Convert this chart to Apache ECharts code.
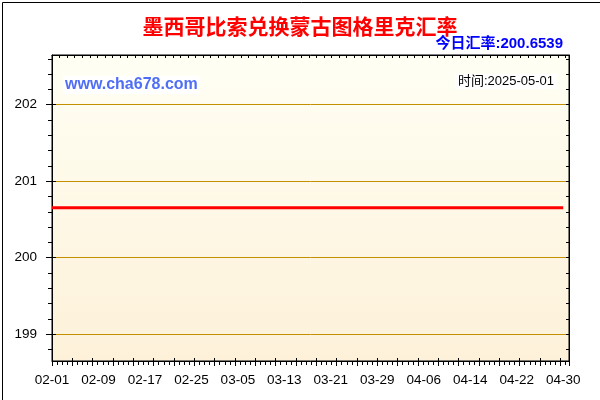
<!DOCTYPE html>
<html>
<head>
<meta charset="utf-8">
<script src="https://cdn.jsdelivr.net/npm/echarts@6/dist/echarts.min.js"></script>
<style>
html,body{margin:0;padding:0;background:#fff;}
#chart{width:600px;height:400px;}
</style>
</head>
<body>
<div id="chart"></div>
<script>
// ---- data ----
const titleText = '墨西哥比索兑换蒙古图格里克汇率';
const todayRateText = '今日汇率:200.6539';
const siteText = 'www.cha678.com';
const timeText = '时间:2025-05-01';

const dates = [
 '02-01','02-02','02-03','02-04','02-05','02-06','02-07','02-08','02-09','02-10',
 '02-11','02-12','02-13','02-14','02-15','02-16','02-17','02-18','02-19','02-20',
 '02-21','02-22','02-23','02-24','02-25','02-26','02-27','02-28',
 '03-01','03-02','03-03','03-04','03-05','03-06','03-07','03-08','03-09','03-10',
 '03-11','03-12','03-13','03-14','03-15','03-16','03-17','03-18','03-19','03-20',
 '03-21','03-22','03-23','03-24','03-25','03-26','03-27','03-28','03-29','03-30','03-31',
 '04-01','04-02','04-03','04-04','04-05','04-06','04-07','04-08','04-09','04-10',
 '04-11','04-12','04-13','04-14','04-15','04-16','04-17','04-18','04-19','04-20',
 '04-21','04-22','04-23','04-24','04-25','04-26','04-27','04-28','04-29','04-30',
 '05-01'
];

const rates = [
 200.6539,200.6539,200.6539,200.6539,200.6539,200.6539,200.6539,200.6539,200.6539,200.6539,
 200.6539,200.6539,200.6539,200.6539,200.6539,200.6539,200.6539,200.6539,200.6539,200.6539,
 200.6539,200.6539,200.6539,200.6539,200.6539,200.6539,200.6539,200.6539,
 200.6539,200.6539,200.6539,200.6539,200.6539,200.6539,200.6539,200.6539,200.6539,200.6539,
 200.6539,200.6539,200.6539,200.6539,200.6539,200.6539,200.6539,200.6539,200.6539,200.6539,
 200.6539,200.6539,200.6539,200.6539,200.6539,200.6539,200.6539,200.6539,200.6539,200.6539,200.6539,
 200.6539,200.6539,200.6539,200.6539,200.6539,200.6539,200.6539,200.6539,200.6539,200.6539,
 200.6539,200.6539,200.6539,200.6539,200.6539,200.6539,200.6539,200.6539,200.6539,200.6539,
 200.6539,200.6539,200.6539,200.6539,200.6539,200.6539,200.6539,200.6539,200.6539,200.6539
];

const yMin = 198.65;
const yMax = 202.65;
const yMajorTicks = [199, 200, 201, 202];
const yMinorTicks = [198.8,199,199.2,199.4,199.6,199.8,200,200.2,200.4,200.6,200.8,
                     201,201.2,201.4,201.6,201.8,202,202.2,202.4,202.6];

// day-scale for bottom/top tick marks
const dayMin = 0;
const dayMax = 89;
const bottomTickStep = 3.5;
const topTickStep = 1.3;

// ---- chart ----
const LATIN = '"Liberation Sans", Arial, "Noto Sans CJK SC", sans-serif';
const CJK = '"Noto Sans CJK SC", "Liberation Sans", sans-serif';
const chart = echarts.init(document.getElementById('chart'), null, {renderer: 'canvas'});

const noLabel = {show: false};
const noLine = {show: false};
const noSplit = {show: false};

chart.setOption({
  animation: false,
  backgroundColor: '#ffffff',
  title: [{
    text: titleText,
    left: 'center',
    top: 11,
    textStyle: {color: '#ff0000', fontSize: 21, fontWeight: 'bold', fontFamily: CJK}
  }],
  grid: {
    left: 52, right: 31, top: 55, bottom: 39,
    show: true,
    borderColor: '#000', borderWidth: 1,
    backgroundColor: new echarts.graphic.LinearGradient(0, 0, 0, 1, [
      {offset: 0, color: '#fffff4'},
      {offset: 1, color: '#fdf1d9'}
    ])
  },
  xAxis: [
    {
      type: 'category', data: dates, boundaryGap: false, position: 'bottom',
      axisLine: {show: true, lineStyle: {color: '#000', width: 1}},
      axisTick: {show: false},
      axisLabel: {interval: 7, color: '#000', fontSize: 13.5, fontFamily: LATIN, margin: 13},
      splitLine: noSplit
    },
    {
      type: 'value', min: dayMin, max: dayMax, interval: bottomTickStep, position: 'bottom',
      axisLine: noLine, axisLabel: noLabel, splitLine: noSplit,
      axisTick: {show: true, inside: false, length: 5, lineStyle: {color: '#000'}},
      minorTick: {show: true, splitNumber: 4, length: 4, lineStyle: {color: '#000'}}
    },
    {
      type: 'value', min: dayMin, max: dayMax, interval: bottomTickStep, position: 'bottom',
      axisLine: noLine, axisLabel: noLabel, splitLine: noSplit,
      axisTick: {show: true, inside: true, length: 3, lineStyle: {color: '#000'}}
    },
    {
      type: 'value', min: dayMin, max: dayMax, interval: topTickStep, position: 'top',
      axisLine: {show: true, lineStyle: {color: '#000'}}, axisLabel: noLabel, splitLine: noSplit,
      axisTick: {show: true, inside: true, length: 3, lineStyle: {color: '#000'}}
    }
  ],
  yAxis: [
    {
      type: 'value', min: yMin, max: yMax, position: 'left',
      axisLine: {show: true, lineStyle: {color: '#000'}},
      axisTick: {show: true, inside: false, length: 6, customValues: yMajorTicks, lineStyle: {color: '#000'}},
      axisLabel: {show: true, customValues: yMajorTicks, color: '#000', fontSize: 13.5, fontFamily: LATIN, margin: 15},
      splitLine: {show: true, lineStyle: {color: '#c49000', width: 1}}
    },
    {
      type: 'value', min: yMin, max: yMax, position: 'left',
      axisLine: noLine, axisLabel: noLabel, splitLine: noSplit,
      axisTick: {show: true, inside: true, length: 4, customValues: yMajorTicks, lineStyle: {color: '#000'}}
    },
    {
      type: 'value', min: yMin, max: yMax, position: 'left',
      axisLine: noLine, axisLabel: noLabel, splitLine: noSplit,
      axisTick: {show: true, inside: false, length: 4, customValues: yMinorTicks, lineStyle: {color: '#000'}}
    },
    {
      type: 'value', min: yMin, max: yMax, position: 'right',
      axisLine: {show: true, lineStyle: {color: '#000'}}, axisLabel: noLabel, splitLine: noSplit,
      axisTick: {show: true, inside: true, length: 3, customValues: yMinorTicks, lineStyle: {color: '#000'}}
    }
  ],
  series: [{
    type: 'line',
    xAxisIndex: 0, yAxisIndex: 0,
    data: rates,
    showSymbol: false, symbol: 'none',
    lineStyle: {color: '#ff0000', width: 3},
    z: 10
  }],
  graphic: [
    {
      type: 'rect', left: 0, top: 0, z: 100, silent: true,
      shape: {x: 0.5, y: 0.5, width: 599, height: 399},
      style: {fill: null, stroke: '#000', lineWidth: 1}
    },
    {
      type: 'text', right: 37, top: 36, z: 100,
      style: {text: todayRateText, fill: '#0000ff', font: 'bold 15px ' + LATIN}
    },
    {
      type: 'text', left: 63, top: 76, z: 100,
      style: {text: siteText, fill: '#4f6ef5', font: 'bold 16px ' + LATIN,
              backgroundColor: '#ffffff', padding: [1, 2, 1, 2]}
    },
    {
      type: 'text', right: 43, top: 74, z: 100,
      style: {text: timeText, fill: '#000000', font: '13px ' + LATIN,
              backgroundColor: '#ffffff', padding: [1, 3, 1, 3]}
    }
  ]
});
</script>
</body>
</html>
